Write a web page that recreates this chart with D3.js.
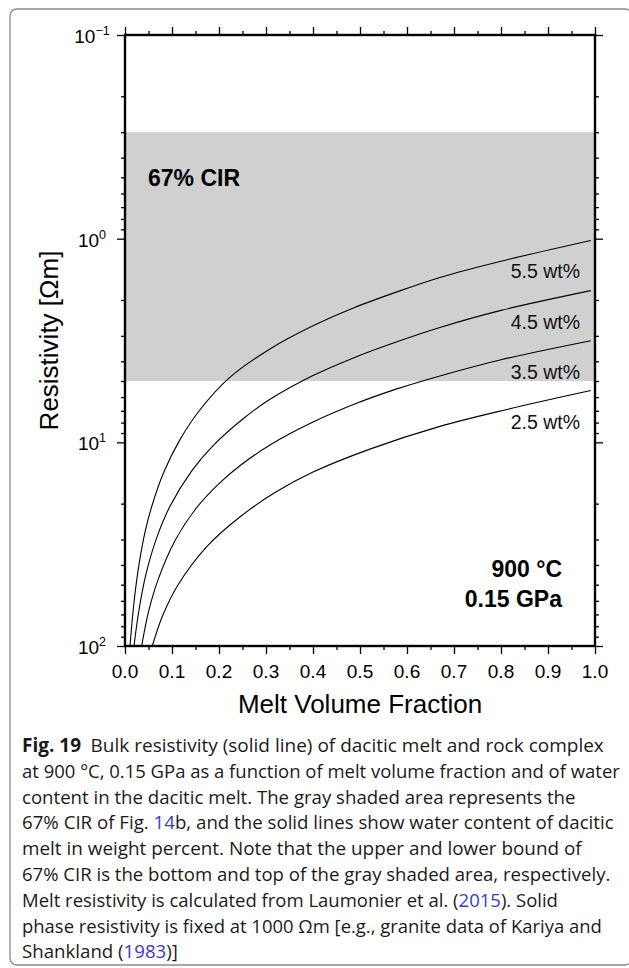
<!DOCTYPE html>
<html>
<head>
<meta charset="utf-8">
<script src="https://cdn.jsdelivr.net/npm/d3@7"></script>
<style>
  body { margin: 0; background: #fff; }
  svg { display: block; }
</style>
</head>
<body>
<svg id="chart" width="629" height="968"></svg>
<script>
// Bulk resistivity [Ωm] vs melt volume fraction, one curve per water content
const waterLabels = ["5.5 wt%", "4.5 wt%", "3.5 wt%", "2.5 wt%"];

const water55 = [
  [0.0106, 100], [0.016, 72], [0.022, 53.5], [0.03, 39.5], [0.043, 27.3], [0.057, 20.6],
  [0.082, 14.1], [0.117, 9.7], [0.16, 6.9], [0.223, 4.8], [0.3085, 3.48], [0.4, 2.68],
  [0.486, 2.19], [0.58, 1.82], [0.67, 1.55], [0.8, 1.29], [0.991, 1.02]
];
const water45 = [
  [0.0191, 100], [0.03, 66], [0.045, 44], [0.067, 29.6], [0.0957, 20.6], [0.142, 13.8],
  [0.188, 10.35], [0.25, 7.7], [0.3085, 6.15], [0.4, 4.7], [0.486, 3.85], [0.58, 3.2],
  [0.67, 2.73], [0.8, 2.25], [0.991, 1.80]
];
const water35 = [
  [0.0355, 100], [0.05, 68], [0.07, 47.5], [0.106, 30.5], [0.152, 21], [0.2, 15.95],
  [0.245, 13.0], [0.3085, 10.3], [0.4, 7.95], [0.486, 6.52], [0.58, 5.45], [0.67, 4.72],
  [0.8, 3.93], [0.991, 3.17]
];
const water25 = [
  [0.058, 100], [0.08, 71], [0.113, 50], [0.174, 32.5], [0.245, 23.2], [0.32, 17.6],
  [0.4, 14.0], [0.521, 10.8], [0.67, 8.35], [0.812, 6.9], [0.991, 5.57]
];
const seriesList = [water55, water45, water35, water25];

// 67% CIR band limits [Ωm]
const cirBand = [0.3, 5];

const xMajorTicks = [0, 0.1, 0.2, 0.3, 0.4, 0.5, 0.6, 0.7, 0.8, 0.9, 1.0];
const xMinorTicks = [0.05, 0.15, 0.25, 0.35, 0.45, 0.55, 0.65, 0.75, 0.85, 0.95];
const yDecades = [-1, 0, 1, 2];

const captionLines = [
  [{t: "Fig. 19", b: true}, {t: "\u2002Bulk resistivity (solid line) of dacitic melt and rock complex"}],
  [{t: "at 900 \u00B0C, 0.15 GPa as a function of melt volume fraction and of water"}],
  [{t: "content in the dacitic melt. The gray shaded area represents the"}],
  [{t: "67% CIR of Fig. "}, {t: "14", link: true}, {t: "b, and the solid lines show water content of dacitic"}],
  [{t: "melt in weight percent. Note that the upper and lower bound of"}],
  [{t: "67% CIR is the bottom and top of the gray shaded area, respectively."}],
  [{t: "Melt resistivity is calculated from Laumonier et al. ("}, {t: "2015", link: true}, {t: "). Solid"}],
  [{t: "phase resistivity is fixed at 1000 \u03A9m [e.g., granite data of Kariya and"}],
  [{t: "Shankland ("}, {t: "1983", link: true}, {t: ")]"}]
];
const captionRight = [604, 620, 576, 614, 582, 611, 558, 602, 178];

(function () {
  const svg = d3.select("#chart");
  const pL = 125, pR = 595, pT = 35, pB = 646;

  const x = d3.scaleLinear().domain([0, 1]).range([pL, pR]);
  const y = d3.scaleLog().domain([0.1, 100]).range([pT, pB]);

  const axisFont = "'Liberation Sans', Arial, Helvetica, sans-serif";

  // outer rounded frame around figure + caption
  svg.append("rect")
    .attr("x", 10).attr("y", 9).attr("width", 622).attr("height", 956)
    .attr("rx", 7).attr("fill", "none").attr("stroke", "#8a8a8a").attr("stroke-width", 1.3);

  svg.append("defs").append("clipPath").attr("id", "plotClip")
    .append("rect").attr("x", pL).attr("y", pT)
    .attr("width", pR - pL).attr("height", pB - pT);

  // gray CIR band
  svg.append("rect")
    .attr("x", pL).attr("width", pR - pL)
    .attr("y", y(cirBand[0])).attr("height", y(cirBand[1]) - y(cirBand[0]))
    .attr("fill", "#cfd0cf");

  // curves
  const line = d3.line()
    .x(d => x(d[0])).y(d => y(d[1]))
    .curve(d3.curveCatmullRom.alpha(0.5));

  const plot = svg.append("g").attr("clip-path", "url(#plotClip)");
  seriesList.forEach(s => {
    plot.append("path").datum(s)
      .attr("d", line).attr("fill", "none")
      .attr("stroke", "#000").attr("stroke-width", 1.1);
  });

  // curve labels
  seriesList.forEach((s, i) => {
    const last = s[s.length - 1];
    svg.append("text")
      .attr("x", x(1) - 15).attr("y", y(last[1]) + 38)
      .attr("text-anchor", "end")
      .attr("font-family", axisFont).attr("font-size", 19.5)
      .attr("fill", "#111")
      .text(waterLabels[i]);
  });

  svg.append("text")
    .attr("x", 148).attr("y", 186)
    .attr("font-family", axisFont).attr("font-size", 23).attr("font-weight", "bold")
    .text("67% CIR");
  svg.append("text")
    .attr("x", 562).attr("y", 577).attr("text-anchor", "end")
    .attr("font-family", axisFont).attr("font-size", 23).attr("font-weight", "bold")
    .text("900 \u00B0C");
  svg.append("text")
    .attr("x", 562).attr("y", 607).attr("text-anchor", "end")
    .attr("font-family", axisFont).attr("font-size", 23).attr("font-weight", "bold")
    .text("0.15 GPa");

  // axes: minor and major ticks on all four sides
  const yMinor = [];
  yDecades.slice(0, -1).forEach(d => {
    for (let k = 2; k <= 9; k++) yMinor.push(k * Math.pow(10, d));
  });
  const yMajor = yDecades.map(d => Math.pow(10, d));

  function styleAxis(g) {
    g.selectAll("path.domain").remove();
    g.selectAll("line").attr("stroke", "#000").attr("stroke-width", 1.3);
  }

  const mk = (axis, vals, size) => axis.tickValues(vals).tickSize(size).tickSizeOuter(0).tickFormat("");

  svg.append("g").attr("transform", `translate(0,${pB})`).call(mk(d3.axisBottom(x), xMinorTicks, 4)).call(styleAxis);
  svg.append("g").attr("transform", `translate(0,${pB})`).call(mk(d3.axisBottom(x), xMajorTicks, 8)).call(styleAxis);
  svg.append("g").attr("transform", `translate(0,${pT})`).call(mk(d3.axisTop(x), xMinorTicks, 4)).call(styleAxis);
  svg.append("g").attr("transform", `translate(0,${pT})`).call(mk(d3.axisTop(x), xMajorTicks, 8)).call(styleAxis);
  svg.append("g").attr("transform", `translate(${pL},0)`).call(mk(d3.axisLeft(y), yMinor, 4)).call(styleAxis);
  svg.append("g").attr("transform", `translate(${pL},0)`).call(mk(d3.axisLeft(y), yMajor, 8)).call(styleAxis);
  svg.append("g").attr("transform", `translate(${pR},0)`).call(mk(d3.axisRight(y), yMinor, 4)).call(styleAxis);
  svg.append("g").attr("transform", `translate(${pR},0)`).call(mk(d3.axisRight(y), yMajor, 8)).call(styleAxis);

  // plot frame
  svg.append("rect")
    .attr("x", pL).attr("y", pT).attr("width", pR - pL).attr("height", pB - pT)
    .attr("fill", "none").attr("stroke", "#000").attr("stroke-width", 2.4);

  // x tick labels
  svg.append("g").selectAll("text").data(xMajorTicks).join("text")
    .attr("x", d => x(d)).attr("y", 678)
    .attr("text-anchor", "middle")
    .attr("font-family", axisFont).attr("font-size", 19)
    .text(d3.format(".1f"));

  // y tick labels as powers of ten
  const yl = svg.append("g").selectAll("text").data(yDecades).join("text")
    .attr("x", 92).attr("y", d => y(Math.pow(10, d)) + 8)
    .attr("text-anchor", "middle")
    .attr("font-family", axisFont).attr("font-size", 19);
  yl.append("tspan").text("10");
  yl.append("tspan").attr("font-size", 12.5).attr("dy", -8)
    .text(d => d < 0 ? "\u2212" + Math.abs(d) : String(d));

  // axis titles
  svg.append("text")
    .attr("x", (pL + pR) / 2).attr("y", 713)
    .attr("text-anchor", "middle")
    .attr("font-family", axisFont).attr("font-size", 26)
    .text("Melt Volume Fraction");
  svg.append("text")
    .attr("transform", `translate(58,${(pT + pB) / 2}) rotate(-90)`)
    .attr("text-anchor", "middle")
    .attr("font-family", axisFont).attr("font-size", 26)
    .text("Resistivity [\u03A9m]");

  // caption, each line squeezed horizontally to its set width
  const capFont = "'Open Sans', 'Noto Sans', sans-serif";
  captionLines.forEach((segs, i) => {
    const t = svg.append("text")
      .attr("x", 0).attr("y", 0)
      .attr("font-family", capFont).attr("font-size", 19)
      .attr("fill", "#1a1a1a");
    segs.forEach(s => {
      t.append("tspan")
        .attr("font-weight", s.b ? "bold" : null)
        .attr("fill", s.link ? "#3a3ad0" : null)
        .text(s.t);
    });
    const w = t.node().getComputedTextLength();
    const sx = (captionRight[i] - 22) / w;
    t.attr("transform", `translate(22,${752 + i * 25.8}) scale(${sx},1)`);
  });
})();
</script>
</body>
</html>
